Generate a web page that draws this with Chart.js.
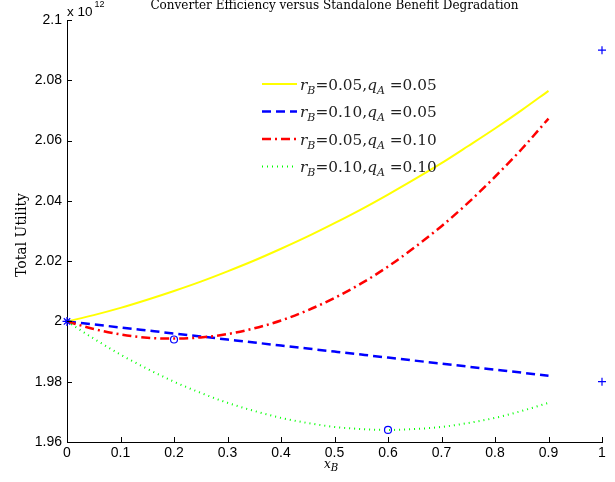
<!DOCTYPE html>
<html>
<head>
<meta charset="utf-8">
<script src="https://cdn.jsdelivr.net/npm/chart.js@4.4.0/dist/chart.umd.min.js"></script>
<style>
  html, body { margin: 0; padding: 0; background: #fff; }
  #wrap { width: 615px; height: 482px; position: relative; }
</style>
</head>
<body>
<div id="wrap"><canvas id="chart"></canvas></div>
<script>
// values are in units of 10^12
const xB = [0, 0.05, 0.1, 0.15, 0.2, 0.25, 0.3, 0.35, 0.4, 0.45, 0.5, 0.55, 0.6, 0.65, 0.7, 0.75, 0.8, 0.85, 0.9];
const utilRB05QA05 = [2.0000, 2.0021, 2.0045, 2.0072, 2.0101, 2.0132, 2.0166, 2.0202, 2.0241, 2.0282, 2.0326, 2.0372, 2.0421, 2.0472, 2.0525, 2.0582, 2.0640, 2.0701, 2.0765];
const utilRB10QA05 = [2.0000, 1.9990, 1.9980, 1.9970, 1.9960, 1.9950, 1.9940, 1.9930, 1.9920, 1.9910, 1.9900, 1.9890, 1.9880, 1.9870, 1.9860, 1.9850, 1.9840, 1.9830, 1.9820];
const utilRB05QA10 = [2.0000, 1.9975, 1.9957, 1.9946, 1.9943, 1.9947, 1.9958, 1.9977, 2.0003, 2.0037, 2.0078, 2.0126, 2.0182, 2.0246, 2.0316, 2.0394, 2.0480, 2.0572, 2.0673];
const utilRB10QA10 = [2.0000, 1.9943, 1.9890, 1.9843, 1.9800, 1.9763, 1.9730, 1.9703, 1.9680, 1.9663, 1.9650, 1.9643, 1.9640, 1.9643, 1.9650, 1.9663, 1.9680, 1.9703, 1.9730];

// marked points
const optX = [0.2, 0.6];
const optY = [1.994, 1.964];
const startX = [0];
const startY = [2.0];
const edgeX = [1, 1];
const edgeY = [2.09, 1.98];

// legend text
const legendRB = ['0.05', '0.10', '0.05', '0.10'];
const legendQA = ['0.05', '0.05', '0.10', '0.10'];

const titleText = 'Converter Efficiency versus Standalone Benefit Degradation';

const series = [utilRB05QA05, utilRB10QA05, utilRB05QA10, utilRB10QA10];
const styles = [
  { color: '#ffff00', dash: [], width: 2 },
  { color: '#0000ff', dash: [9, 5], width: 2.5 },
  { color: '#ff0000', dash: [9, 4, 2, 4], width: 2.5 },
  { color: '#00ff00', dash: [1, 4], width: 2 },
];

function pts(xs, ys) {
  return xs.map((x, i) => ({ x, y: ys[i] }));
}

const lineSets = series.map((s, i) => ({
  type: 'line',
  data: pts(xB, s),
  borderColor: styles[i].color,
  borderWidth: styles[i].width,
  borderDash: styles[i].dash,
  borderCapStyle: 'butt',
  pointRadius: 0,
  cubicInterpolationMode: 'monotone',
  fill: false,
  order: 7 - i,
}));

const markerSets = [
  { data: pts(optX, optY), pointStyle: 'circle', radius: 3.5, order: 2 },
  { data: pts(startX, startY), pointStyle: 'star', radius: 4.5, order: 1 },
  { data: pts(edgeX, edgeY), pointStyle: 'cross', radius: 4, order: 0 },
].map(m => ({
  type: 'scatter',
  data: m.data,
  showLine: false,
  pointStyle: m.pointStyle,
  pointRadius: m.radius,
  pointBorderColor: '#0000ff',
  pointBackgroundColor: 'rgba(0,0,0,0)',
  pointBorderWidth: 1.2,
  clip: false,
  order: m.order,
}));

// draw a run of latex-ish pieces: n normal, i italic, s italic subscript
function drawMath(ctx, x, y, parts, size, subRatio = 0.72) {
  parts.forEach(([txt, st]) => {
    if (st === 's') {
      ctx.font = `italic ${size * subRatio}px "DejaVu Serif"`;
      ctx.fillText(txt, x, y + size * 0.27);
    } else {
      ctx.font = `${st === 'i' ? 'italic ' : ''}${size}px "DejaVu Serif"`;
      ctx.fillText(txt, x, y);
    }
    x += ctx.measureText(txt).width;
  });
}

const decor = {
  id: 'decor',
  afterDraw(chart) {
    const { ctx, chartArea: a, scales } = chart;
    ctx.save();
    ctx.strokeStyle = '#000';
    ctx.lineWidth = 1;
    ctx.setLineDash([]);
    // inward ticks
    ctx.beginPath();
    scales.x.ticks.forEach(t => {
      const px = Math.round(scales.x.getPixelForValue(t.value)) + 0.5;
      ctx.moveTo(px, a.bottom);
      ctx.lineTo(px, a.bottom - 5);
    });
    scales.y.ticks.forEach(t => {
      const py = Math.round(scales.y.getPixelForValue(t.value)) + 0.5;
      ctx.moveTo(a.left, py);
      ctx.lineTo(a.left + 5, py);
    });
    ctx.stroke();

    ctx.fillStyle = '#000';
    ctx.textBaseline = 'alphabetic';

    // title
    ctx.font = '12px "DejaVu Serif"';
    ctx.textAlign = 'center';
    ctx.fillText(titleText, (a.left + a.right) / 2, 9);

    // exponent
    ctx.textAlign = 'left';
    ctx.font = '13.5px "Liberation Sans"';
    ctx.fillText('x 10', 67, 15.5);
    ctx.font = '9px "Liberation Sans"';
    ctx.fillText('12', 94.5, 6.5);

    // y axis title
    ctx.save();
    ctx.translate(26, (a.top + a.bottom) / 2 + 4);
    ctx.rotate(-Math.PI / 2);
    ctx.textAlign = 'center';
    ctx.font = '14px "DejaVu Serif"';
    ctx.fillText('Total Utility', 0, 0);
    ctx.restore();

    // x axis title
    ctx.textAlign = 'left';
    drawMath(ctx, 324, 468, [['x', 'i'], ['B', 's']], 12, 0.85);

    // legend
    const rows = [84, 111.5, 139, 166.5];
    rows.forEach((ry, i) => {
      ctx.beginPath();
      ctx.strokeStyle = styles[i].color;
      ctx.lineWidth = styles[i].width;
      ctx.setLineDash(styles[i].dash);
      ctx.moveTo(262, ry);
      ctx.lineTo(297, ry);
      ctx.stroke();
      ctx.setLineDash([]);
      ctx.fillStyle = '#222';
      drawMath(ctx, 300, ry + 5.5, [
        ['r', 'i'], ['B', 's'], ['=' + legendRB[i] + ',', 'n'],
        ['q', 'i'], ['A', 's'], [' =' + legendQA[i], 'n'],
      ], 15.3);
    });
    ctx.restore();
  },
};

Chart.defaults.font.family = '"Liberation Sans", Arial, sans-serif';
Chart.defaults.font.size = 14;
const tickFont = { family: '"Liberation Sans", Arial, sans-serif', size: 14 };

new Chart(document.getElementById('chart'), {
  data: { datasets: [...lineSets, ...markerSets] },
  options: {
    responsive: true,
    maintainAspectRatio: false,
    animation: false,
    devicePixelRatio: 1,
    layout: { padding: { top: 20, right: 13, left: 0, bottom: 0 } },
    plugins: { legend: { display: false }, tooltip: { enabled: false }, title: { display: false } },
    scales: {
      x: {
        type: 'linear',
        min: 0,
        max: 1,
        ticks: {
          stepSize: 0.1,
          autoSkip: false,
          maxRotation: 0,
          color: '#000',
          font: tickFont,
          padding: 3,
          callback: v => String(+v.toFixed(1)),
        },
        grid: { display: false, drawTicks: false },
        border: { display: true, color: '#000', width: 1 },
        afterFit(s) { s.height = 40; },
      },
      y: {
        type: 'linear',
        min: 1.96,
        max: 2.1,
        ticks: {
          stepSize: 0.02,
          autoSkip: false,
          color: '#000',
          font: tickFont,
          padding: 5,
          callback: v => String(+v.toFixed(2)),
        },
        grid: { display: false, drawTicks: false },
        border: { display: true, color: '#000', width: 1 },
        afterFit(s) { s.width = 67; },
      },
    },
  },
  plugins: [decor],
});
</script>
</body>
</html>
